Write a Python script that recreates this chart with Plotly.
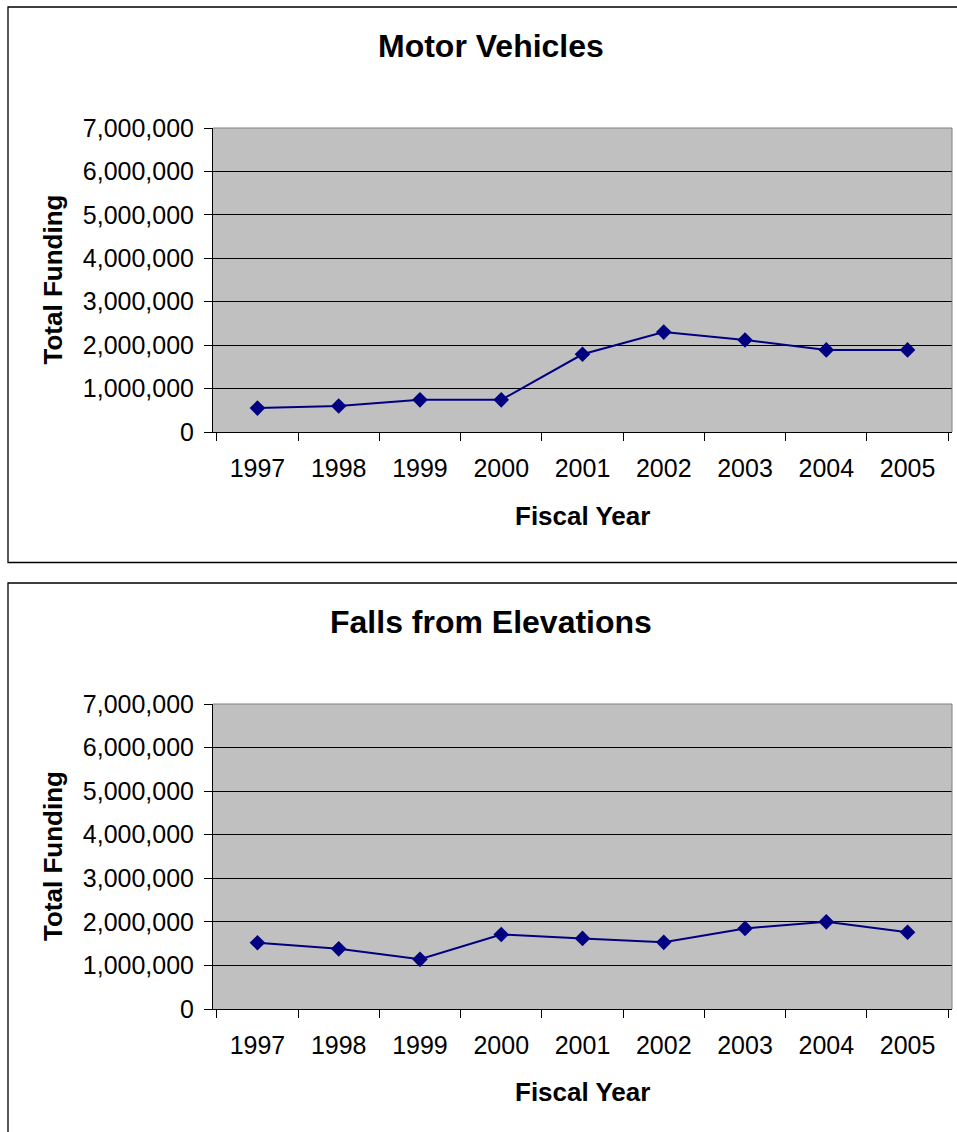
import plotly.graph_objects as go

# Fiscal years and total funding per injury category
years = ["1997", "1998", "1999", "2000", "2001", "2002", "2003", "2004", "2005"]
motor_vehicles = [550000, 600000, 740000, 740000, 1790000, 2300000, 2120000, 1890000, 1890000]
falls_from_elevations = [1520000, 1380000, 1140000, 1710000, 1620000, 1530000, 1850000, 2000000, 1760000]
panel_titles = ["Motor Vehicles", "Falls from Elevations"]
x_title = "Fiscal Year"
y_title = "Total Funding"

W, H = 957, 1132
FONT = "Liberation Sans, Arial, sans-serif"
NAVY = "#000080"


def px_x(v):
    return v / W


def px_y(v):
    return 1 - v / H


# pixel layout of each panel: plot area top/bottom and box top/bottom
panels = [
    dict(top=128, bottom=432, box_top=7, box_bottom=562.5, values=motor_vehicles),
    dict(top=704, bottom=1009, box_top=583, box_bottom=1200, values=falls_from_elevations),
]
plot_left, plot_right = 213, 952

fig = go.Figure()
annotations = []
shapes = []

for i, p in enumerate(panels):
    n = "" if i == 0 else str(i + 1)
    fig.add_trace(go.Scatter(
        x=years, y=p["values"], mode="lines+markers",
        line=dict(color=NAVY, width=2),
        marker=dict(symbol="diamond", size=12, color=NAVY),
        xaxis="x" + n, yaxis="y" + n, showlegend=False,
        hoverinfo="x+y",
    ))
    fig.update_layout(**{
        "xaxis" + n: dict(
            type="category", domain=[px_x(plot_left), px_x(plot_right)],
            anchor="y" + n, tickson="boundaries", ticks="outside", ticklen=8,
            tickcolor="black", showline=True, linecolor="black", linewidth=1,
            showgrid=False, zeroline=False, ticklabelstandoff=14,
            automargin=False,
            tickfont=dict(family=FONT, size=25, color="black"),
        ),
        "yaxis" + n: dict(
            domain=[px_y(p["bottom"]), px_y(p["top"])], anchor="x" + n,
            range=[0, 7000000], dtick=1000000, tickformat=",",
            ticks="outside", ticklen=8, tickcolor="black",
            showline=True, linecolor="black", linewidth=1,
            showgrid=True, gridcolor="black", gridwidth=1, zeroline=False,
            ticklabelstandoff=5, automargin=False,
            tickfont=dict(family=FONT, size=25, color="black"),
        ),
    })
    off = p["top"] - 128
    # chart title
    annotations.append(dict(
        text="<b>%s</b>" % panel_titles[i], x=px_x(491), y=px_y(46 + off),
        xref="paper", yref="paper", xanchor="center", yanchor="middle",
        showarrow=False, font=dict(family=FONT, size=32, color="black"),
    ))
    # axis titles
    annotations.append(dict(
        text="<b>%s</b>" % x_title, x=px_x(582.5), y=px_y(516 + off),
        xref="paper", yref="paper", xanchor="center", yanchor="middle",
        showarrow=False, font=dict(family=FONT, size=26, color="black"),
    ))
    annotations.append(dict(
        text="<b>%s</b>" % y_title, x=px_x(52.5), y=px_y((p["top"] + p["bottom"]) / 2),
        xref="paper", yref="paper", xanchor="center", yanchor="middle",
        textangle=-90, showarrow=False,
        font=dict(family=FONT, size=26, color="black"),
    ))
    # grey border on the top and right of the plot area
    shapes.append(dict(type="line", xref="paper", yref="paper",
                       x0=px_x(plot_left), x1=px_x(plot_right),
                       y0=px_y(p["top"]), y1=px_y(p["top"]),
                       line=dict(color="#808080", width=1)))
    shapes.append(dict(type="line", xref="paper", yref="paper",
                       x0=px_x(plot_right), x1=px_x(plot_right),
                       y0=px_y(p["top"]), y1=px_y(p["bottom"]),
                       line=dict(color="#808080", width=1)))
    # chart frame
    shapes.append(dict(type="rect", xref="paper", yref="paper",
                       x0=px_x(8), x1=px_x(1000),
                       y0=px_y(p["box_bottom"]), y1=px_y(p["box_top"]),
                       line=dict(color="black", width=1.3), layer="below"))

fig.update_layout(
    width=W, height=H, autosize=False,
    margin=dict(l=0, r=0, t=0, b=0, pad=0, autoexpand=False),
    paper_bgcolor="white", plot_bgcolor="#C0C0C0",
    annotations=annotations, shapes=shapes,
    font=dict(family=FONT, color="black"),
)

fig.write_html("out.html")
